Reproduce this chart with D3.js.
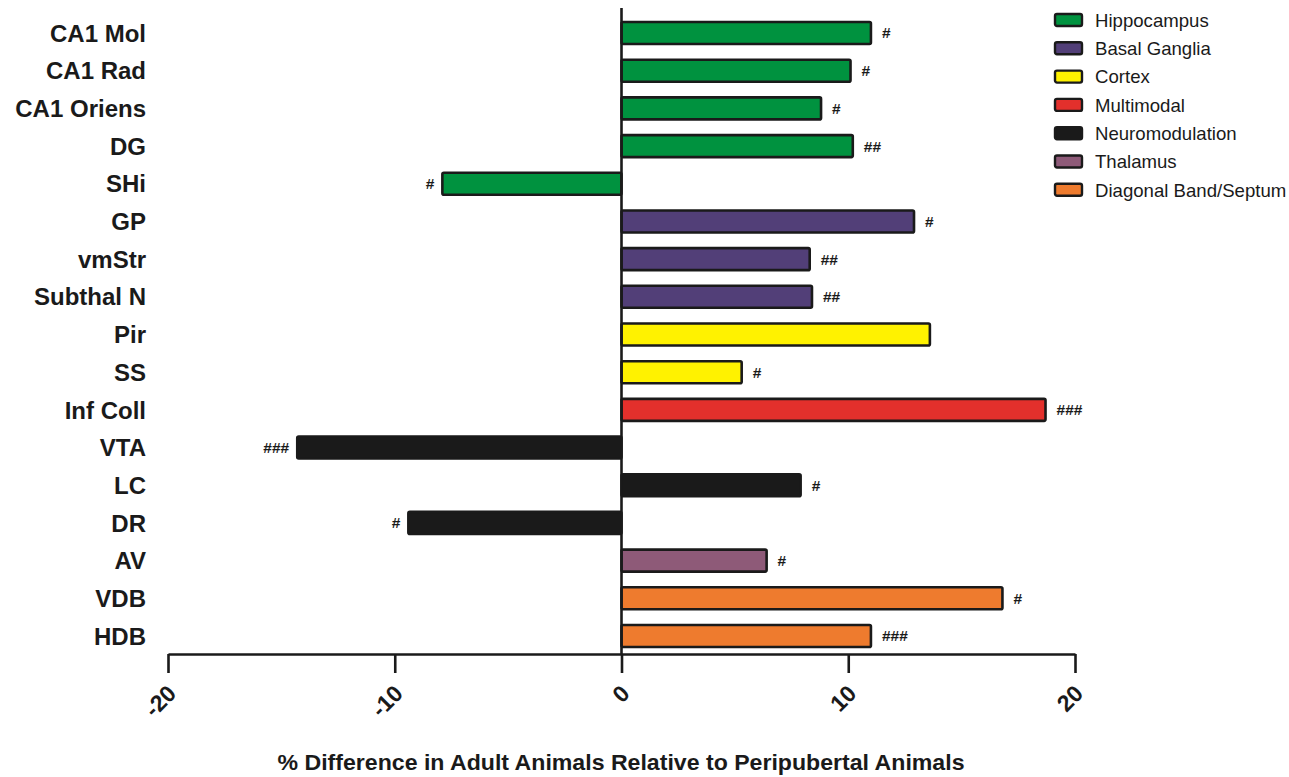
<!DOCTYPE html>
<html>
<head>
<meta charset="utf-8">
<script src="https://cdn.jsdelivr.net/npm/d3@7"></script>
<style>
  html, body { margin: 0; padding: 0; background: #fff; }
  svg { display: block; }
  text { font-family: "Liberation Sans", Arial, sans-serif; fill: #1a1a1a; }
</style>
</head>
<body>
<svg id="chart" width="1289" height="777"></svg>
<script>
// Brain regions, top to bottom
const regions = ["CA1 Mol", "CA1 Rad", "CA1 Oriens", "DG", "SHi", "GP", "vmStr", "Subthal N",
  "Pir", "SS", "Inf Coll", "VTA", "LC", "DR", "AV", "VDB", "HDB"];
// % difference (adult vs peripubertal)
const values = [11.0, 10.1, 8.8, 10.2, -7.9, 12.9, 8.3, 8.4,
  13.6, 5.3, 18.7, -14.3, 7.9, -9.4, 6.4, 16.8, 11.0];
// Functional group of each region
const regionGroups = ["Hippocampus", "Hippocampus", "Hippocampus", "Hippocampus", "Hippocampus",
  "Basal Ganglia", "Basal Ganglia", "Basal Ganglia", "Cortex", "Cortex", "Multimodal",
  "Neuromodulation", "Neuromodulation", "Neuromodulation", "Thalamus",
  "Diagonal Band/Septum", "Diagonal Band/Septum"];
// Significance markers
const marks = ["#", "#", "#", "##", "#", "#", "##", "##", "", "#", "###", "###", "#", "#", "#", "#", "###"];
// Legend groups and fill colours
const groups = ["Hippocampus", "Basal Ganglia", "Cortex", "Multimodal", "Neuromodulation", "Thalamus", "Diagonal Band/Septum"];
const groupColors = ["#00923f", "#523f78", "#fff200", "#e3302c", "#1a1a1a", "#8e5a78", "#ee7b2e"];
// Axis ticks
const xTicks = [-20, -10, 0, 10, 20];
const xTitle = "% Difference in Adult Animals Relative to Peripubertal Animals";

const svg = d3.select("#chart");
const ink = "#1a1a1a";

const x = d3.scaleLinear().domain([-20, 20]).range([168, 1075]);
const y = d3.scaleBand().domain(regions).range([14.5, 654.5]).paddingInner(0.416).paddingOuter(0.2);
const color = d3.scaleOrdinal().domain(groups).range(groupColors);

const rows = regions.map((r, i) => ({ region: r, value: values[i], group: regionGroups[i], mark: marks[i] }));

// Bars
svg.append("g").selectAll("rect").data(rows).join("rect")
  .attr("x", d => x(Math.min(0, d.value)))
  .attr("y", d => y(d.region))
  .attr("width", d => Math.abs(x(d.value) - x(0)))
  .attr("height", y.bandwidth())
  .attr("rx", 1.5)
  .attr("fill", d => color(d.group))
  .attr("stroke", ink)
  .attr("stroke-width", 2.6);

// Significance markers
svg.append("g").selectAll("text").data(rows.filter(d => d.mark)).join("text")
  .attr("x", d => d.value >= 0 ? x(d.value) + 11 : x(d.value) - 8)
  .attr("y", d => y(d.region) + y.bandwidth() / 2)
  .attr("dy", "0.35em")
  .attr("text-anchor", d => d.value >= 0 ? "start" : "end")
  .style("font-size", "15.5px")
  .style("font-weight", "bold")
  .text(d => d.mark);

// Zero line
svg.append("line")
  .attr("x1", x(0)).attr("x2", x(0))
  .attr("y1", 8).attr("y2", 654)
  .attr("stroke", ink).attr("stroke-width", 2.6);

// Region labels
svg.append("g").selectAll("text").data(rows).join("text")
  .attr("x", 146)
  .attr("y", d => y(d.region) + y.bandwidth() / 2)
  .attr("dy", "0.36em")
  .attr("text-anchor", "end")
  .style("font-size", "24px")
  .style("font-weight", "bold")
  .text(d => d.region);

// X axis
const axis = svg.append("g")
  .attr("transform", "translate(0,654)")
  .call(d3.axisBottom(x).tickValues(xTicks).tickSize(19).tickSizeOuter(0).tickFormat(d => String(d)));
axis.select(".domain").attr("stroke", ink).attr("stroke-width", 2.6);
axis.selectAll(".tick line").attr("stroke", ink).attr("stroke-width", 2.6);
axis.selectAll(".tick text")
  .attr("y", 0).attr("dy", 0)
  .attr("transform", "translate(9,41) rotate(-45)")
  .attr("text-anchor", "end")
  .style("font-family", "'Liberation Sans', Arial, sans-serif")
  .style("font-size", "23px")
  .style("font-weight", "bold")
  .attr("fill", ink);

// Axis title
svg.append("text")
  .attr("x", 621).attr("y", 770)
  .attr("text-anchor", "middle")
  .attr("textLength", 687)
  .attr("lengthAdjust", "spacingAndGlyphs")
  .style("font-size", "22px")
  .style("font-weight", "bold")
  .text(xTitle);

// Legend
const legend = svg.append("g").selectAll("g").data(groups).join("g")
  .attr("transform", (d, i) => `translate(1055,${20 + i * 28.3})`);
legend.append("rect")
  .attr("x", 0).attr("y", -6).attr("width", 27).attr("height", 12)
  .attr("rx", 2)
  .attr("fill", d => color(d))
  .attr("stroke", ink).attr("stroke-width", 2.4);
legend.append("text")
  .attr("x", 40).attr("y", 0).attr("dy", "0.36em")
  .style("font-size", "18.6px")
  .text(d => d);
</script>
</body>
</html>
